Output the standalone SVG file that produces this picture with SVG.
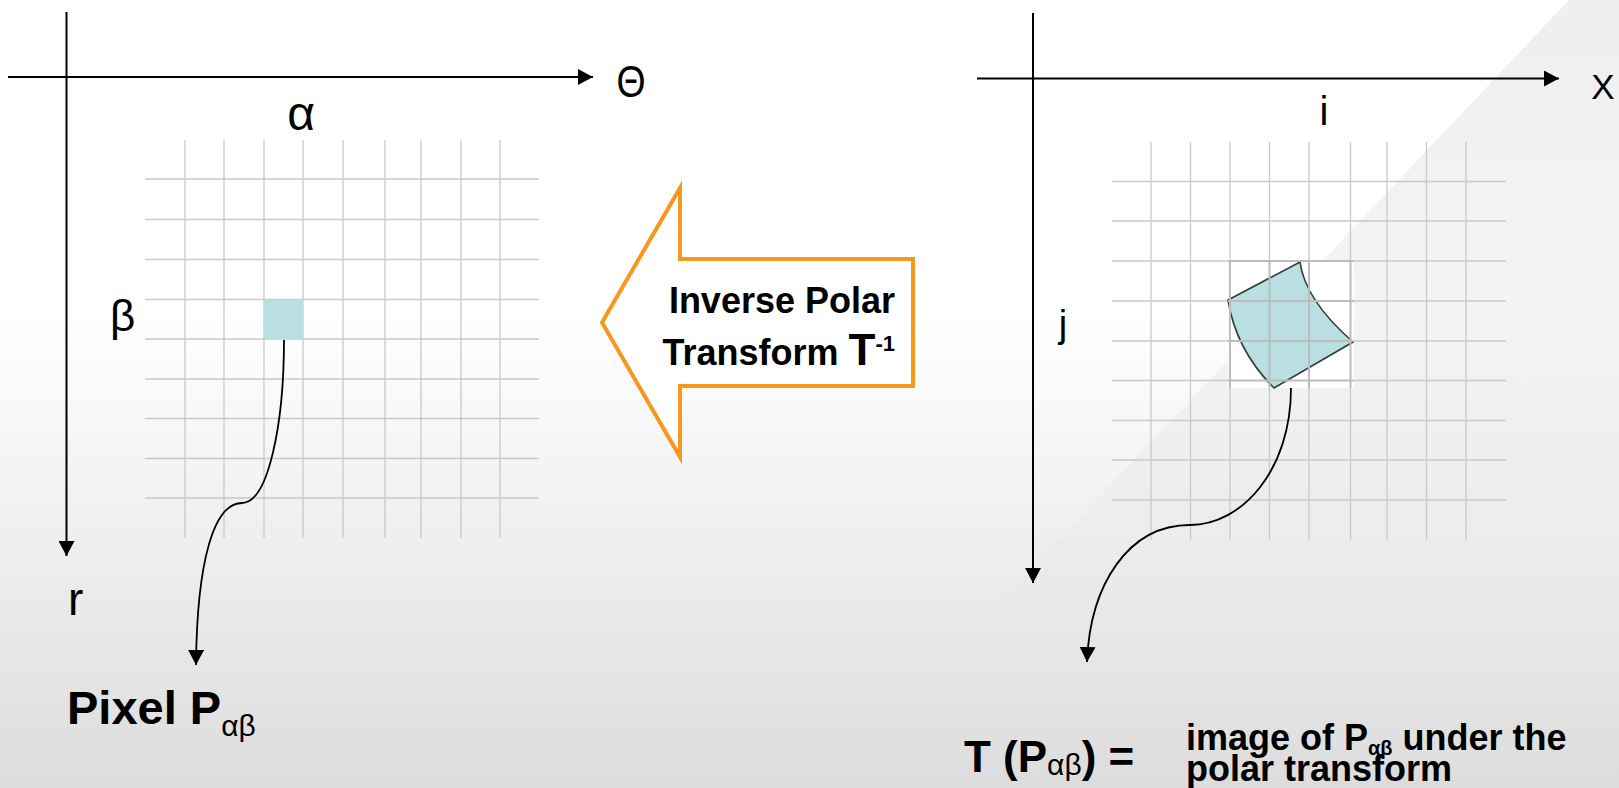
<svg xmlns="http://www.w3.org/2000/svg" width="1619" height="788" viewBox="0 0 1619 788">
<defs>
<linearGradient id="bg" x1="0" y1="0" x2="0" y2="1">
<stop offset="0" stop-color="#ffffff"/>
<stop offset="0.4" stop-color="#ffffff"/>
<stop offset="0.7" stop-color="#eeeeee"/>
<stop offset="1" stop-color="#dcdcdc"/>
</linearGradient>
<linearGradient id="diag" x1="0" y1="0" x2="0" y2="1">
<stop offset="0" stop-color="#000" stop-opacity="0.065"/>
<stop offset="0.45" stop-color="#000" stop-opacity="0.04"/>
<stop offset="0.8" stop-color="#000" stop-opacity="0"/>
</linearGradient>
<marker id="ah" viewBox="0 0 15 16" refX="15" refY="8" markerWidth="15" markerHeight="16" markerUnits="userSpaceOnUse" orient="auto">
<path d="M0,0 L15,8 L0,16 z" fill="#000"/>
</marker>
<style>
.axis{stroke:#000;stroke-width:2;fill:none}
.grid{stroke:#c9c9c9;stroke-width:1.3;fill:none}
.gridb{stroke:#bcbcbc;stroke-width:2;fill:none}
.conn{stroke:#000;stroke-width:1.8;fill:none}
.lbl{font-family:"Liberation Sans",Arial,sans-serif;fill:#000}
.b{font-weight:bold}
</style>
</defs>
<rect x="0" y="0" width="1619" height="788" fill="url(#bg)"/>
<polygon points="1569,0 1619,0 1619,788 824,788" fill="url(#diag)"/>

<g id="polar-axes">
<path class="axis" d="M8,77 H593" marker-end="url(#ah)"/>
<path class="axis" d="M66.5,12 V556" marker-end="url(#ah)"/>
<text class="lbl" transform="translate(631,97) scale(0.85,1)" font-size="44" text-anchor="middle">Θ</text>
<text class="lbl" x="301" y="130" font-size="48" text-anchor="middle">α</text>
<text class="lbl" x="110" y="331" font-size="44">β</text>
<text class="lbl" x="68" y="615" font-size="46">r</text>
</g>

<g id="polar-grid">
<path class="grid" d="M185,140V538M224,140V538M264,140V538M303,140V538M343,140V538M385,140V538M421,140V538M461,140V538M500,140V538"/>
<path class="grid" d="M145,179H539M145,219.5H539M145,259.5H539M145,299.5H539M145,339H539M145,379H539M145,418.5H539M145,458.5H539M145,498H539"/>
<rect x="264" y="299.5" width="39" height="39.5" fill="#b9dfe2"/>
</g>

<g id="cartesian-axes">
<path class="axis" d="M977,78.5 H1559" marker-end="url(#ah)"/>
<path class="axis" d="M1033,13 V583" marker-end="url(#ah)"/>
<text class="lbl" x="1603" y="99" font-size="35" text-anchor="middle">X</text>
<text class="lbl" x="1324" y="125" font-size="40" text-anchor="middle">i</text>
<text class="lbl" x="1063" y="337" font-size="38" text-anchor="middle">j</text>
</g>

<g id="cartesian-grid">
<path class="grid" d="M1151,142V540M1190.5,142V540M1230,142V540M1269.5,142V540M1309,142V540M1350.5,142V540M1387,142V540M1426.5,142V540M1466,142V540"/>
<path class="grid" d="M1112,181.5H1506M1112,221H1506M1112,261H1506M1112,301H1506M1112,341H1506M1112,380.5H1506M1112,420.5H1506M1112,460H1506M1112,500H1506"/>
<rect x="1228" y="260" width="126" height="128" fill="#ffffff"/>
<path d="M1228,300 L1300,262 Q1305,300 1353,342 L1274,388 Q1236,350 1228,300 Z" fill="#b9dfe2" stroke="#2f3d3d" stroke-width="1.6"/>
<path class="gridb" d="M1230,260V388M1269.5,260V388M1309,260V388M1350.5,260V388"/>
<path class="gridb" d="M1228,261H1354M1228,301H1354M1228,341H1354M1228,380.5H1354"/>
</g>

<g id="inverse-transform">
<polygon points="602,322.5 680,188 680,259 913,259 913,386 680,386 680,457" fill="#ffffff" stroke="#f7971c" stroke-width="4" stroke-linejoin="miter"/>
<text class="lbl b" x="895" y="313" font-size="36" text-anchor="end">Inverse Polar</text>
<text class="lbl b" x="895" y="365" font-size="36" text-anchor="end">Transform <tspan font-size="44">T</tspan><tspan font-size="22" dy="-14">-1</tspan></text>
</g>

<g id="pixel-label">
<text class="lbl b" x="67" y="724" font-size="47">Pixel P<tspan font-weight="normal" font-size="30" dy="12">αβ</tspan></text>
</g>

<g id="image-label">
<text class="lbl b" x="964" y="772" font-size="44">T (P<tspan font-weight="normal" font-size="30" dy="3">αβ</tspan><tspan dy="-3">) =</tspan></text>
<text class="lbl b" x="1186" y="750" font-size="36">image of P<tspan font-size="20" dy="5">αβ</tspan><tspan dy="-5"> under the</tspan></text>
<text class="lbl b" x="1186" y="781" font-size="36">polar transform</text>
</g>

<g id="connectors">
<path class="conn" d="M284,340 C284,425 268,503 242,503 C214,503 197,560 196,665" marker-end="url(#ah)"/>
<path class="conn" d="M1291,388 C1291,470 1242,525 1190,525 C1128,525 1090,585 1087,662" marker-end="url(#ah)"/>
</g>
</svg>
